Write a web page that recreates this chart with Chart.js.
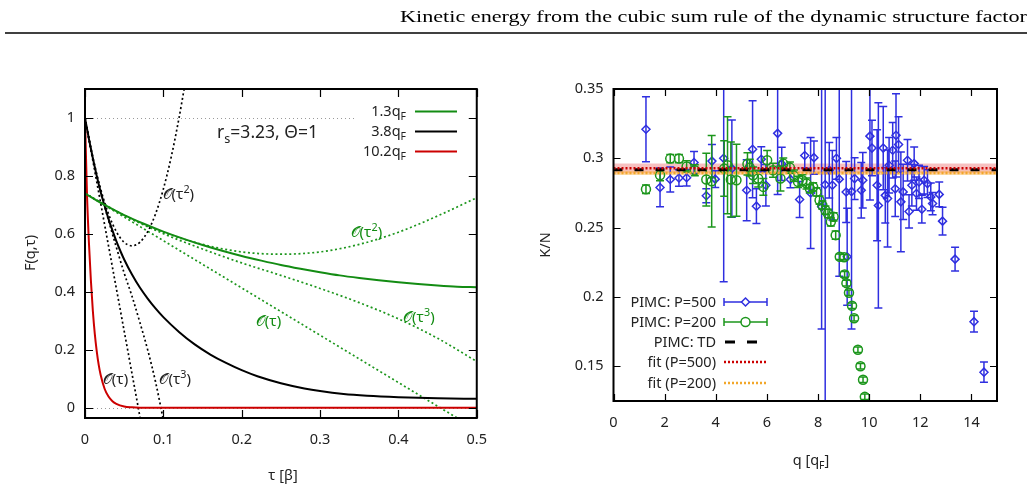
<!DOCTYPE html>
<html><head><meta charset="utf-8">
<script src="https://cdn.jsdelivr.net/npm/chart.js@4"></script>
<style>
html,body{margin:0;padding:0;background:#fff;width:1033px;height:489px;overflow:hidden;}
#lw{position:absolute;left:0;top:0;width:500px;height:489px;}
#rw{position:absolute;left:520px;top:0;width:513px;height:489px;}
#hdr{position:absolute;left:0;top:0;}
</style></head><body>
<div id="lw"><canvas id="left" width="500" height="489"></canvas></div>
<div id="rw"><canvas id="right" width="513" height="489"></canvas></div>
<svg id="hdr" width="1033" height="40">
<text x="1027" y="22" text-anchor="end" font-family="'Liberation Serif','DejaVu Serif',serif" font-size="17.5" textLength="627" lengthAdjust="spacingAndGlyphs">Kinetic energy from the cubic sum rule of the dynamic structure factor</text>
<line x1="5" y1="33" x2="1027" y2="33" stroke="#000" stroke-width="1.3"/>
</svg>
<script>
// ---------------- LEFT PANEL DATA ----------------
const xTicksL = [0, 0.1, 0.2, 0.3, 0.4, 0.5];
const xTickLabelsL = ['0', '0.1', '0.2', '0.3', '0.4', '0.5'];
const yTicksL = [0, 0.2, 0.4, 0.6, 0.8, 1];
const yTickLabelsL = ['0', '0.2', '0.4', '0.6', '0.8', '1'];

const tauG13 = [0,0.025,0.05,0.075,0.1,0.125,0.15,0.175,0.2,0.225,0.25,0.275,0.3,0.325,0.35,0.375,0.4,0.425,0.45,0.475,0.5];
const fG13   = [0.74,0.70,0.665,0.635,0.608,0.584,0.562,0.542,0.524,0.508,0.493,0.48,0.468,0.457,0.448,0.44,0.433,0.427,0.422,0.418,0.416];

const tauK38 = [0,0.005,0.01,0.015,0.02,0.025,0.03,0.035,0.04,0.045,0.05,0.06,0.07,0.08,0.09,0.1,0.12,0.14,0.16,0.18,0.2,0.22,0.25,0.28,0.3,0.33,0.36,0.4,0.45,0.5];
const fK38   = [1,0.928,0.862,0.80,0.745,0.697,0.652,0.612,0.575,0.542,0.512,0.46,0.415,0.377,0.343,0.313,0.262,0.219,0.184,0.155,0.13,0.109,0.085,0.067,0.058,0.048,0.042,0.037,0.033,0.031];

const tauR102 = [0,0.0025,0.005,0.0075,0.01,0.0125,0.015,0.0175,0.02,0.025,0.03,0.035,0.04,0.05,0.06,0.07,0.08,0.5];
const fR102   = [1,0.74,0.57,0.44,0.335,0.255,0.195,0.148,0.113,0.066,0.039,0.023,0.014,0.005,0.002,0.0005,0,0];

// short-time expansions (dotted)
const tauK1 = [0, 0.0704];
const fK1   = [1, -0.035];
const tauK2 = [0,0.01,0.02,0.03,0.04,0.05,0.06,0.07,0.08,0.09,0.1,0.11,0.12,0.1265];
const fK2   = [1,0.865,0.755,0.669,0.608,0.571,0.559,0.571,0.608,0.669,0.755,0.865,1.0,1.1];
const tauK3 = [0,0.01,0.02,0.03,0.04,0.05,0.06,0.07,0.08,0.09,0.0995];
const fK3   = [1,0.86,0.747,0.647,0.554,0.465,0.385,0.295,0.2,0.09,-0.035];

const tauG1 = [0, 0.475];
const fG1   = [0.74, -0.035];
const tauG2 = [0,0.05,0.1,0.15,0.2,0.25,0.3,0.35,0.4,0.45,0.5];
const fG2   = [0.74,0.664,0.606,0.564,0.538,0.53,0.538,0.564,0.606,0.662,0.725];
const tauG3 = [0,0.05,0.1,0.15,0.2,0.25,0.3,0.35,0.4,0.45,0.5];
const fG3   = [0.74,0.664,0.601,0.548,0.5,0.457,0.412,0.363,0.307,0.24,0.16];

const refLineLevels = [0, 1];

// ---------------- RIGHT PANEL DATA ----------------
const xTicksR = [0, 2, 4, 6, 8, 10, 12, 14];
const xTickLabelsR = ['0', '2', '4', '6', '8', '10', '12', '14'];
const yTicksR = [0.15, 0.2, 0.25, 0.3, 0.35];
const yTickLabelsR = ['0.15', '0.2', '0.25', '0.3', '0.35'];

const qP500 = [1.27,1.82,2.22,2.56,2.86,3.15,3.63,3.85,3.98,4.31,4.63,5.21,5.44,5.59,5.78,5.96,6.42,6.58,6.92,7.28,7.48,7.71,7.84,8.14,8.28,8.44,8.56,8.72,8.83,9.1,9.14,9.31,9.43,9.69,9.75,10.03,10.11,10.31,10.36,10.55,10.63,10.72,10.78,10.92,11.02,11.05,11.15,11.24,11.33,11.5,11.56,11.67,11.76,11.85,11.95,12.06,12.15,12.28,12.41,12.48,12.74,12.87,13.36,14.1,14.49];
const kP500 = [0.321,0.279,0.2847,0.2858,0.286,0.297,0.273,0.298,0.285,0.3,0.2926,0.277,0.3065,0.2655,0.2993,0.2806,0.318,0.296,0.2848,0.2703,0.302,0.275,0.3005,0.265,0.281,0.2914,0.2806,0.3,0.285,0.2757,0.229,0.276,0.2854,0.277,0.2842,0.316,0.3074,0.2806,0.266,0.3074,0.2733,0.271,0.295,0.3058,0.278,0.3166,0.31,0.2686,0.2758,0.2986,0.2617,0.2806,0.2962,0.2746,0.283,0.2633,0.2842,0.2818,0.2722,0.2674,0.274,0.2547,0.2273,0.1822,0.1458];
const eP500 = [0.0235,0.014,0.009,0.006,0.006,0.008,0.005,0.012,0.006,0.089,0.035,0.022,0.035,0.0125,0.009,0.015,0.044,0.012,0.006,0.013,0.009,0.04,0.012,0.088,0.19,0.02,0.025,0.015,0.07,0.022,0.035,0.099,0.015,0.02,0.02,0.046,0.02,0.04,0.074,0.03,0.02,0.035,0.02,0.02,0.02,0.03,0.02,0.036,0.02,0.015,0.012,0.015,0.012,0.012,0.012,0.01,0.01,0.01,0.01,0.008,0.009,0.01,0.0085,0.0075,0.0073];

const qP200 = [1.27,1.82,2.22,2.56,2.86,3.18,3.63,3.84,4.33,4.46,4.59,4.81,5.24,5.33,5.46,5.66,5.86,6.01,6.24,6.53,6.64,6.9,7.06,7.22,7.39,7.55,7.68,7.81,7.94,8.06,8.17,8.29,8.39,8.5,8.61,8.69,8.85,9.02,9.04,9.11,9.21,9.33,9.41,9.56,9.66,9.76,9.83];
const kP200 = [0.2777,0.2878,0.2998,0.2998,0.2942,0.2914,0.2847,0.2835,0.2926,0.295,0.2847,0.2842,0.296,0.2933,0.2878,0.2854,0.2794,0.2986,0.2914,0.2854,0.2962,0.2933,0.2875,0.283,0.2842,0.2818,0.2782,0.2794,0.2758,0.2698,0.2662,0.2626,0.2602,0.2542,0.2578,0.2446,0.229,0.2286,0.2163,0.21,0.2031,0.1937,0.1847,0.1619,0.150,0.1403,0.128];
const eP200 = [0.003,0.004,0.003,0.003,0.004,0.004,0.019,0.033,0.02,0.035,0.027,0.026,0.008,0.006,0.006,0.006,0.006,0.007,0.005,0.009,0.004,0.004,0.004,0.004,0.004,0.004,0.003,0.003,0.003,0.003,0.003,0.003,0.003,0.003,0.003,0.003,0.002,0.002,0.002,0.002,0.002,0.002,0.002,0.002,0.002,0.002,0.002];

const kTD = 0.2918;
const fit500 = 0.2928, fit500Err = 0.0035;
const fit200 = 0.2895, fit200Err = 0.0016;
const qRange = [0, 15];

// ---------------- helpers ----------------
const FONT = "'Noto Sans','DejaVu Sans',sans-serif";
const FS = 14.5;
const GREEN = '#138c13';
const GREENP = '#1c961c';
const BLUE = '#2f2fe0';
const RED = '#cc0000';
const ORANGE = '#f2a72a';

function pts(xs, ys){ return xs.map((x,i)=>({x:x, y:ys[i]})); }
function curve(xs, ys, color, dotted, width){
  return {data: pts(xs, ys), showLine:true, borderColor:color, backgroundColor:color,
    borderWidth: width, borderDash: dotted ? [2,2.6] : [], pointRadius:0, pointHoverRadius:0,
    cubicInterpolationMode:'monotone', fill:false};
}
function rich(ctx, parts, x, y, align, size, color){
  const small = size*0.72;
  let w = 0; const ws = [];
  parts.forEach(([t,k])=>{ ctx.font = (k==='n'?size:small)+'px '+FONT; const m = ctx.measureText(t).width; ws.push(m); w += m; });
  let cx = align==='right' ? x-w : (align==='center' ? x-w/2 : x);
  ctx.fillStyle = color; ctx.textBaseline = 'alphabetic'; ctx.textAlign = 'left';
  parts.forEach(([t,k],i)=>{
    ctx.font = (k==='n'?size:small)+'px '+FONT;
    const dy = k==='sub' ? size*0.25 : (k==='sup' ? -size*0.4 : 0);
    ctx.fillText(t, cx, y+dy); cx += ws[i];
  });
}
function frameAndTicks(chart, len){
  const ctx = chart.ctx, a = chart.chartArea, sx = chart.scales.x, sy = chart.scales.y;
  ctx.save();
  ctx.strokeStyle = '#000'; ctx.lineWidth = 1.2;
  ctx.beginPath();
  sx.ticks.forEach(t=>{ const px = Math.round(sx.getPixelForValue(t.value))+0.5;
    ctx.moveTo(px, a.bottom); ctx.lineTo(px, a.bottom-len);
    ctx.moveTo(px, a.top); ctx.lineTo(px, a.top+len); });
  sy.ticks.forEach(t=>{ const py = Math.round(sy.getPixelForValue(t.value))+0.5;
    ctx.moveTo(a.left, py); ctx.lineTo(a.left+len, py);
    ctx.moveTo(a.right, py); ctx.lineTo(a.right-len, py); });
  ctx.stroke();
  ctx.lineWidth = 2;
  ctx.strokeRect(a.left, a.top, a.right-a.left, a.bottom-a.top);
  ctx.restore();
}
function tickCfg(ticks, labels, pad){
  return {font:{family:FONT, size:FS}, color:'#222', padding:pad, maxRotation:0, autoSkip:false,
    callback:(v)=>{ const i = ticks.findIndex(t=>Math.abs(t-v)<1e-9); return i>=0 ? labels[i] : ''; }};
}

// ---------------- LEFT CHART ----------------
const leftDeco = {
  id:'leftDeco',
  beforeDatasetsDraw(chart){
    const ctx = chart.ctx, sx = chart.scales.x, sy = chart.scales.y;
    ctx.save();
    ctx.strokeStyle = '#9a9a9a'; ctx.lineWidth = 1; ctx.setLineDash([1,3]);
    refLineLevels.forEach(v=>{
      const py = Math.round(sy.getPixelForValue(v))+0.5;
      const xEnd = v===1 ? sx.getPixelForValue(0.344) : sx.getPixelForValue(0.5);
      ctx.beginPath(); ctx.moveTo(sx.getPixelForValue(0), py); ctx.lineTo(xEnd, py); ctx.stroke();
    });
    ctx.restore();
  },
  afterDraw(chart){
    const ctx = chart.ctx, sx = chart.scales.x, sy = chart.scales.y;
    frameAndTicks(chart, 8);
    const X = v=>sx.getPixelForValue(v), Y = v=>sy.getPixelForValue(v);
    ctx.save();
    // expansion labels
    const O = '\u{1D4AA}';
    rich(ctx, [[O,'n'],['(τ','n'],['2','sup'],[')','n']], X(0.099), Y(0.72), 'left', 15, '#222');
    rich(ctx, [[O,'n'],['(τ','n'],['2','sup'],[')','n']], X(0.339), Y(0.589), 'left', 15, GREEN);
    rich(ctx, [[O,'n'],['(τ)','n']], X(0.218), Y(0.282), 'left', 15, GREEN);
    rich(ctx, [[O,'n'],['(τ','n'],['3','sup'],[')','n']], X(0.406), Y(0.296), 'left', 15, GREEN);
    rich(ctx, [[O,'n'],['(τ)','n']], X(0.0228), Y(0.082), 'left', 15, '#222');
    rich(ctx, [[O,'n'],['(τ','n'],['3','sup'],[')','n']], X(0.095), Y(0.082), 'left', 15, '#222');
    // parameters
    rich(ctx, [['r','n'],['s','sub'],['=3.23, Θ=1','n']], X(0.233), Y(0.93), 'center', 17.5, '#222');
    // legend
    const rows = [['1.3q', GREEN], ['3.8q', '#000'], ['10.2q', RED]];
    rows.forEach((r,i)=>{
      const cy = 111 + i*20;
      rich(ctx, [[r[0],'n'],['F','sub']], 406, cy+5, 'right', FS, '#222');
      ctx.strokeStyle = r[1]; ctx.lineWidth = 2; ctx.setLineDash([]);
      ctx.beginPath(); ctx.moveTo(415, cy+0.5); ctx.lineTo(457, cy+0.5); ctx.stroke();
    });
    // axis titles
    ctx.save(); ctx.translate(30, 253); ctx.rotate(-Math.PI/2);
    rich(ctx, [['F(q,τ)','n']], 0, 5, 'center', FS, '#222'); ctx.restore();
    rich(ctx, [['τ [β]','n']], 283, 480, 'center', FS, '#222');
    ctx.restore();
  }
};

new Chart(document.getElementById('left'), {
  type:'scatter',
  data:{datasets:[
    curve(tauG13, fG13, GREEN, false, 2),
    curve(tauK38, fK38, '#000', false, 2),
    curve(tauR102, fR102, RED, false, 2),
    curve(tauK1, fK1, '#000', true, 1.7),
    curve(tauK2, fK2, '#000', true, 1.7),
    curve(tauK3, fK3, '#000', true, 1.7),
    curve(tauG1, fG1, GREENP, true, 1.7),
    curve(tauG2, fG2, GREENP, true, 1.7),
    curve(tauG3, fG3, GREENP, true, 1.7)
  ]},
  options:{
    responsive:false, animation:false, devicePixelRatio:1,
    layout:{padding:{top:89, right:21, left:0, bottom:0}},
    plugins:{legend:{display:false}, tooltip:{enabled:false}},
    scales:{
      x:{type:'linear', min:0, max:0.5, grid:{display:false, drawTicks:false}, border:{display:false},
         afterFit(s){ s.height = 71; }, afterBuildTicks(s){ s.ticks = xTicksL.map(v=>({value:v})); },
         ticks: tickCfg(xTicksL, xTickLabelsL, 13)},
      y:{type:'linear', min:-0.035, max:1.1, grid:{display:false, drawTicks:false}, border:{display:false},
         afterFit(s){ s.width = 85; }, afterBuildTicks(s){ s.ticks = yTicksL.map(v=>({value:v})); },
         ticks: tickCfg(yTicksL, yTickLabelsL, 10)}
    }
  },
  plugins:[leftDeco]
});

// ---------------- RIGHT CHART ----------------
function drawErr(ctx, px, py0, py1, cap){
  ctx.moveTo(px, py0); ctx.lineTo(px, py1);
  ctx.moveTo(px-cap, py0); ctx.lineTo(px+cap, py0);
  ctx.moveTo(px-cap, py1); ctx.lineTo(px+cap, py1);
}
const rightDeco = {
  id:'rightDeco',
  afterDatasetDraw(chart, args){
    const ds = chart.data.datasets[args.index];
    if(!ds.errs) return;
    const ctx = chart.ctx, a = chart.chartArea, sx = chart.scales.x, sy = chart.scales.y;
    ctx.save();
    ctx.beginPath(); ctx.rect(a.left, a.top, a.right-a.left, a.bottom-a.top); ctx.clip();
    ctx.strokeStyle = ds.borderColor; ctx.lineWidth = 1.5; ctx.setLineDash([]);
    ctx.beginPath();
    ds.data.forEach((p,i)=>{
      const px = sx.getPixelForValue(p.x);
      drawErr(ctx, px, sy.getPixelForValue(p.y+ds.errs[i]), sy.getPixelForValue(p.y-ds.errs[i]), 4);
    });
    ctx.stroke();
    ctx.restore();
  },
  afterDraw(chart){
    const ctx = chart.ctx;
    frameAndTicks(chart, 7);
    ctx.save();
    const tx = 196, s0 = 204, s1 = 247, sm = 225.5;
    const rows = [302, 322, 342, 362, 383];
    const texts = ['PIMC: P=500', 'PIMC: P=200', 'PIMC: TD', 'fit (P=500)', 'fit (P=200)'];
    rows.forEach((cy,i)=> rich(ctx, [[texts[i],'n']], tx, cy+5, 'right', FS, '#222'));
    // P=500 sample
    ctx.lineWidth = 1.5; ctx.setLineDash([]);
    ctx.strokeStyle = BLUE; ctx.beginPath();
    ctx.moveTo(s0, rows[0]); ctx.lineTo(s1, rows[0]);
    ctx.moveTo(s0, rows[0]-4); ctx.lineTo(s0, rows[0]+4);
    ctx.moveTo(s1, rows[0]-4); ctx.lineTo(s1, rows[0]+4);
    ctx.stroke();
    ctx.fillStyle = '#fff'; ctx.beginPath();
    ctx.moveTo(sm, rows[0]-4); ctx.lineTo(sm+4, rows[0]); ctx.lineTo(sm, rows[0]+4); ctx.lineTo(sm-4, rows[0]); ctx.closePath();
    ctx.fill(); ctx.stroke();
    // P=200 sample
    ctx.strokeStyle = GREENP; ctx.beginPath();
    ctx.moveTo(s0, rows[1]); ctx.lineTo(s1, rows[1]);
    ctx.moveTo(s0, rows[1]-4); ctx.lineTo(s0, rows[1]+4);
    ctx.moveTo(s1, rows[1]-4); ctx.lineTo(s1, rows[1]+4);
    ctx.stroke();
    ctx.beginPath(); ctx.arc(sm, rows[1], 4.5, 0, 2*Math.PI); ctx.fill(); ctx.stroke();
    // TD
    ctx.strokeStyle = '#000'; ctx.lineWidth = 3; ctx.setLineDash([10,12]);
    ctx.beginPath(); ctx.moveTo(s0+1, rows[2]); ctx.lineTo(s1, rows[2]); ctx.stroke();
    // fits
    ctx.lineWidth = 2.5; ctx.setLineDash([2,2]);
    ctx.strokeStyle = RED; ctx.beginPath(); ctx.moveTo(s0, rows[3]); ctx.lineTo(s1, rows[3]); ctx.stroke();
    ctx.strokeStyle = ORANGE; ctx.beginPath(); ctx.moveTo(s0, rows[4]); ctx.lineTo(s1, rows[4]); ctx.stroke();
    ctx.setLineDash([]);
    // axis titles
    ctx.save(); ctx.translate(25, 245); ctx.rotate(-Math.PI/2);
    rich(ctx, [['K/N','n']], 0, 5, 'center', FS, '#222'); ctx.restore();
    rich(ctx, [['q [q','n'],['F','sub'],[']','n']], 291, 465, 'center', FS, '#222');
    ctx.restore();
  }
};

function hline(y, color, dash, width, order){
  return {data: pts(qRange, [y, y]), showLine:true, borderColor:color, borderWidth:width,
    borderDash:dash, pointRadius:0, fill:false, order:order};
}
function band(y, color, fillTo, order){
  return {data: pts(qRange, [y, y]), showLine:true, borderColor:'rgba(0,0,0,0)', borderWidth:0,
    backgroundColor:color, pointRadius:0, fill:fillTo, order:order};
}

new Chart(document.getElementById('right'), {
  type:'scatter',
  data:{datasets:[
    band(fit500+fit500Err, 'rgba(235,90,90,0.38)', '+1', 9),
    band(fit500-fit500Err, 'rgba(0,0,0,0)', false, 9),
    band(fit200+fit200Err, 'rgba(250,175,60,0.45)', '+1', 8),
    band(fit200-fit200Err, 'rgba(0,0,0,0)', false, 8),
    {data: pts(qP500, kP500), errs: eP500, borderColor:BLUE, backgroundColor:'rgba(0,0,0,0)',
      pointStyle:'rectRot', pointRadius:4, borderWidth:1.5, order:5},
    {data: pts(qP200, kP200), errs: eP200, borderColor:GREENP, backgroundColor:'rgba(0,0,0,0)',
      pointStyle:'circle', pointRadius:4.5, borderWidth:1.5, order:4},
    hline(kTD, '#000', [9,12], 3, 3),
    hline(fit500, RED, [2,2], 2.5, 2),
    hline(fit200, ORANGE, [2,2], 2.5, 1)
  ]},
  options:{
    responsive:false, animation:false, devicePixelRatio:1,
    layout:{padding:{top:89, right:36, left:0, bottom:0}},
    plugins:{legend:{display:false}, tooltip:{enabled:false}, filler:{propagate:false}},
    scales:{
      x:{type:'linear', min:0, max:15, grid:{display:false, drawTicks:false}, border:{display:false},
         afterFit(s){ s.height = 88; }, afterBuildTicks(s){ s.ticks = xTicksR.map(v=>({value:v})); },
         ticks: tickCfg(xTicksR, xTickLabelsR, 13)},
      y:{type:'linear', min:0.125, max:0.35, grid:{display:false, drawTicks:false}, border:{display:false},
         afterFit(s){ s.width = 93.5; }, afterBuildTicks(s){ s.ticks = yTicksR.map(v=>({value:v})); },
         ticks: tickCfg(yTicksR, yTickLabelsR, 10)}
    }
  },
  plugins:[rightDeco]
});
</script>
</body></html>
